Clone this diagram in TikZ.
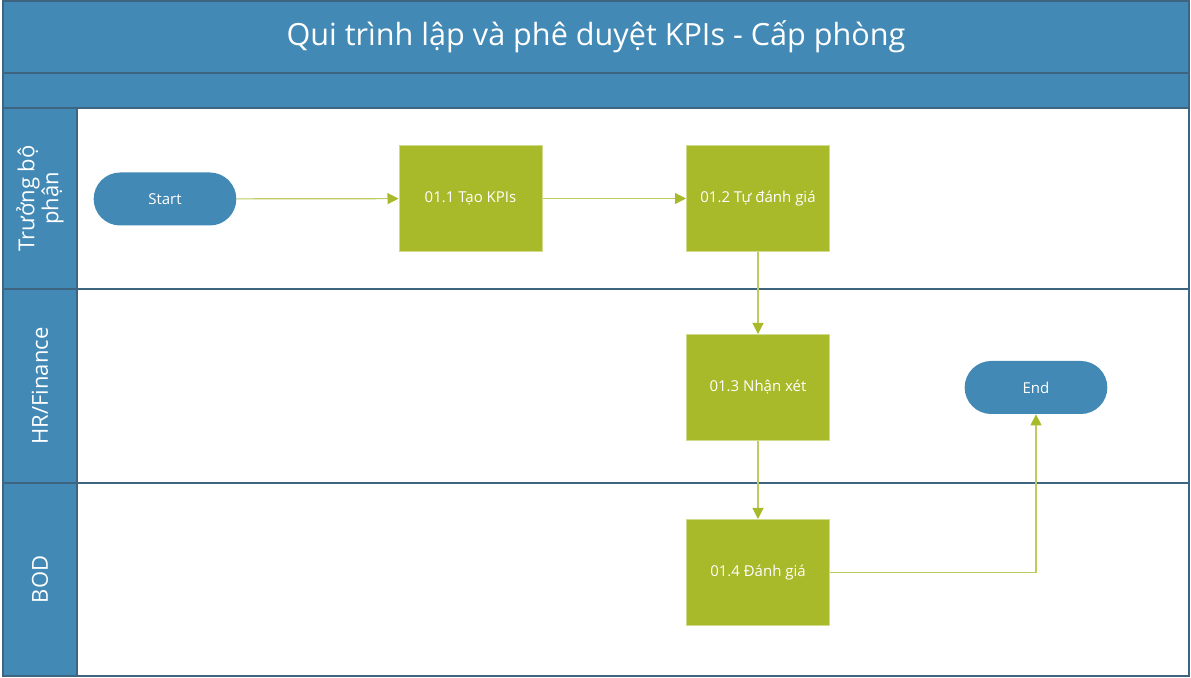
\documentclass[tikz,border=0pt]{standalone}
\usepackage{fontspec}
\setmainfont{Open Sans}
\usetikzlibrary{arrows.meta,shapes.misc}
\definecolor{bandblue}{HTML}{4289B5}
\definecolor{framecol}{HTML}{3D6580}
\definecolor{boxgreen}{HTML}{A8B92A}
\definecolor{boxedge}{HTML}{D2DB8C}
\definecolor{linkgreen}{HTML}{BDCB60}
\tikzset{
  band/.style={fill=bandblue,draw=framecol,line width=0.75pt},
  lanebox/.style={draw=framecol,line width=0.75pt},
  stepbox/.style={rectangle,fill=boxgreen,draw=boxedge,line width=0.5pt,minimum width=71.5pt,minimum height=53pt,text=white,font=\fontsize{7.5}{8}\selectfont,inner sep=0pt},
  term/.style={rounded rectangle,fill=bandblue,draw=none,minimum width=78pt,minimum height=26.5pt,text=white,font=\fontsize{7.5}{8}\selectfont},
  lanelabel/.style={rotate=90,text=white,font=\fontsize{11}{12}\selectfont,align=center},
  link/.style={draw=linkgreen,line width=0.6pt,-{Triangle[length=5.5pt,width=5.5pt,color=boxgreen,fill=boxgreen]}}
}
\begin{document}
\begin{tikzpicture}[x=0.5pt,y=-0.5pt]
\useasboundingbox (0,0) rectangle (1191,678);
% bands
\path[band] (3,1) rectangle (1189,73);
\path[band] (3,73) rectangle (1189,108);
\node[text=white,font=\fontsize{15.3}{18}\selectfont] (title) at (596,37) {Qui trình lập và phê duyệt KPIs - Cấp phòng};
% lanes
\path[lanebox,fill=white] (77,108) rectangle (1189,289);
\path[lanebox,fill=white] (77,289) rectangle (1189,483);
\path[lanebox,fill=white] (77,483) rectangle (1189,676);
\path[band] (3,108) rectangle (77,289);
\path[band] (3,289) rectangle (77,483);
\path[band] (3,483) rectangle (77,676);
\node[lanelabel] (l1) at (40,198.5) {Trưởng bộ\\phận};
\node[lanelabel] (l2) at (40,386) {HR/Finance};
\node[lanelabel] (l3) at (40,579.5) {BOD};
% nodes
\node[term] (start) at (165,199) {Start};
\node[stepbox] (s1) at (470.5,198.5) {01.1 Tạo KPIs};
\node[stepbox] (s2) at (758,198.5) {01.2 Tự đánh giá};
\node[stepbox] (s3) at (758,387.5) {01.3 Nhận xét};
\node[stepbox] (s4) at (758,572.5) {01.4 Đánh giá};
\node[term] (end) at (1036,387.5) {End};
% links
\draw[link] (start) -- (s1);
\draw[link] (s1) -- (s2);
\draw[link] (s2) -- (s3);
\draw[link] (s3) -- (s4);
\draw[link] (s4.east) -| (end.south);
\end{tikzpicture}
\end{document}
